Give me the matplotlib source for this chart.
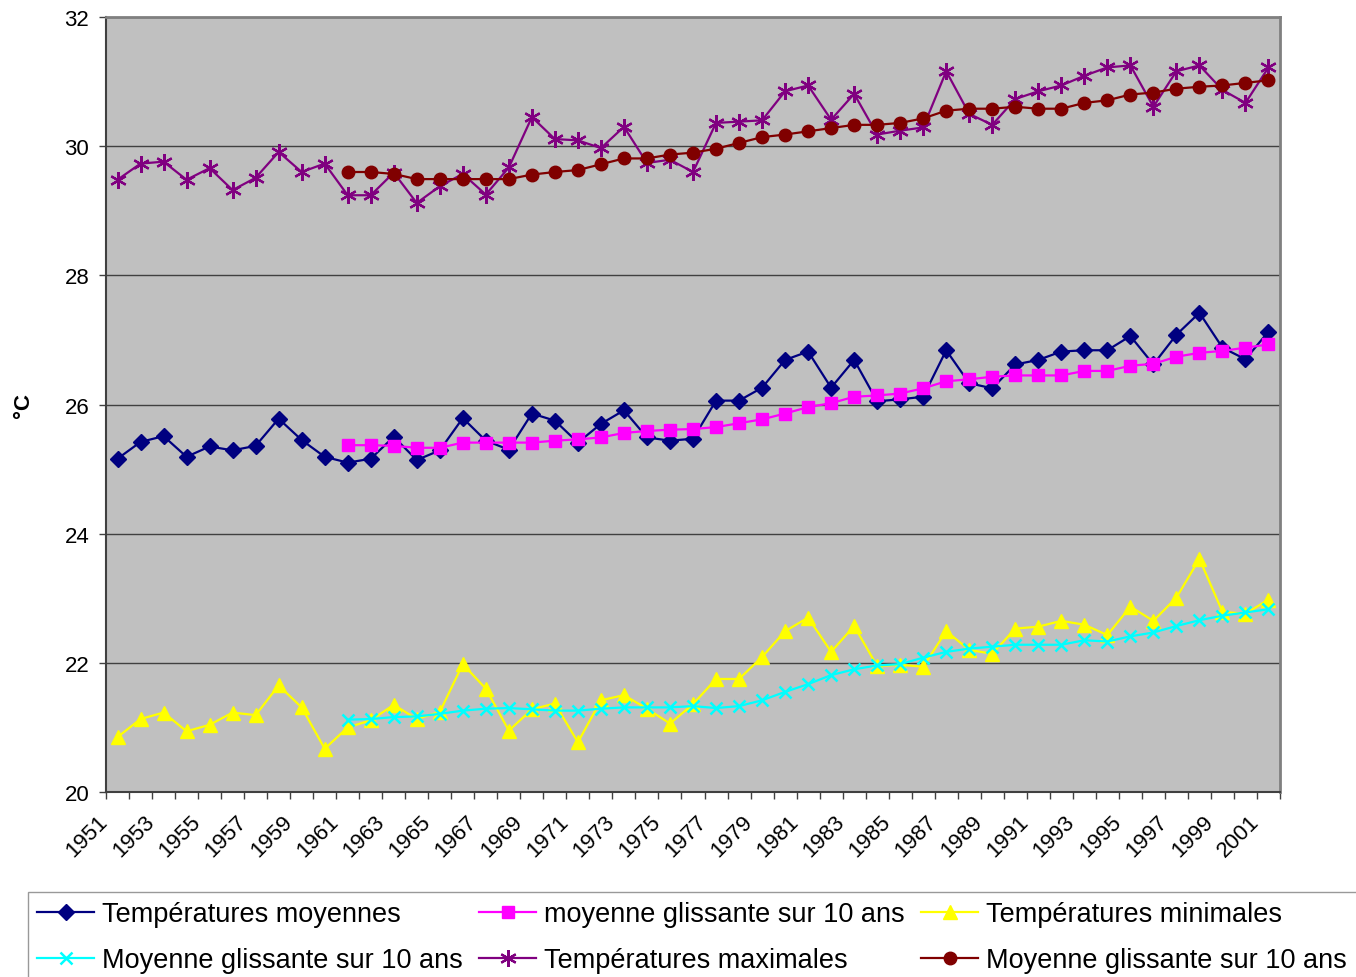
import matplotlib
matplotlib.use("Agg")
import matplotlib.pyplot as plt
import numpy as np
from matplotlib.transforms import ScaledTranslation

plt.rcParams["font.family"] = ["Liberation Sans", "DejaVu Sans"]

# ---- data -----------------------------------------------------------------
years = list(range(1951, 2002))
ma_years = list(range(1961, 2002))

t_moy = [25.16, 25.42, 25.51, 25.19, 25.35, 25.29, 25.36, 25.78, 25.45, 25.19,
         25.10, 25.16, 25.50, 25.14, 25.29, 25.79, 25.44, 25.30, 25.86, 25.75,
         25.41, 25.70, 25.91, 25.49, 25.44, 25.47, 26.06, 26.06, 26.26, 26.69,
         26.82, 26.26, 26.69, 26.05, 26.08, 26.12, 26.84, 26.33, 26.25, 26.62,
         26.69, 26.82, 26.84, 26.84, 27.06, 26.62, 27.08, 27.42, 26.88, 26.70,
         27.13]
ma_moy = [25.37, 25.37, 25.36, 25.33, 25.33, 25.41, 25.41, 25.41, 25.41, 25.44,
          25.46, 25.49, 25.56, 25.59, 25.61, 25.62, 25.65, 25.71, 25.77, 25.86,
          25.96, 26.02, 26.12, 26.14, 26.17, 26.25, 26.36, 26.39, 26.43, 26.45,
          26.45, 26.45, 26.52, 26.52, 26.60, 26.63, 26.74, 26.80, 26.83, 26.88,
          26.93]
t_min = [20.85, 21.13, 21.23, 20.94, 21.04, 21.23, 21.19, 21.65, 21.31, 20.67,
         21.00, 21.11, 21.35, 21.13, 21.24, 21.98, 21.60, 20.95, 21.28, 21.37,
         20.77, 21.42, 21.50, 21.29, 21.06, 21.36, 21.75, 21.75, 22.09, 22.49,
         22.70, 22.17, 22.57, 21.95, 21.97, 21.94, 22.49, 22.20, 22.14, 22.53,
         22.56, 22.65, 22.59, 22.43, 22.87, 22.65, 23.01, 23.61, 22.79, 22.76,
         22.98]
ma_min = [21.12, 21.13, 21.16, 21.17, 21.21, 21.26, 21.29, 21.30, 21.28, 21.26,
          21.26, 21.29, 21.31, 21.31, 21.31, 21.33, 21.30, 21.33, 21.42, 21.55,
          21.67, 21.81, 21.90, 21.96, 21.98, 22.08, 22.17, 22.22, 22.25, 22.28,
          22.28, 22.28, 22.35, 22.33, 22.41, 22.47, 22.57, 22.66, 22.73, 22.78,
          22.83]
t_max = [29.48, 29.73, 29.76, 29.48, 29.66, 29.32, 29.51, 29.91, 29.60, 29.73,
         29.24, 29.24, 29.59, 29.12, 29.38, 29.57, 29.25, 29.67, 30.45, 30.11,
         30.09, 29.97, 30.30, 29.74, 29.79, 29.60, 30.36, 30.38, 30.40, 30.85,
         30.94, 30.41, 30.81, 30.18, 30.24, 30.29, 31.16, 30.50, 30.33, 30.73,
         30.85, 30.94, 31.09, 31.22, 31.25, 30.61, 31.16, 31.25, 30.87, 30.67,
         31.22]
ma_max = [29.60, 29.60, 29.57, 29.49, 29.49, 29.49, 29.49, 29.49, 29.56, 29.60,
          29.63, 29.72, 29.81, 29.81, 29.87, 29.90, 29.96, 30.05, 30.14, 30.18,
          30.23, 30.28, 30.33, 30.33, 30.36, 30.43, 30.55, 30.58, 30.58, 30.61,
          30.58, 30.58, 30.67, 30.71, 30.80, 30.83, 30.89, 30.92, 30.94, 30.98,
          31.02]

labels = ["Températures moyennes", "moyenne glissante sur 10 ans",
          "Températures minimales", "Moyenne glissante sur 10 ans",
          "Températures maximales", "Moyenne glissante sur 10 ans"]

# ---- figure ---------------------------------------------------------------
fig = plt.figure(figsize=(13.56, 9.78), dpi=100)
ax = fig.add_axes([106 / 1356, 1 - 793 / 978, 1174 / 1356, 775 / 978])
ax.set_facecolor("#c0c0c0")

x = np.arange(len(years))
xm = np.array([years.index(y) for y in ma_years])

lw = 1.6
h_moy, = ax.plot(x, t_moy, color="#000080", lw=lw, marker="D", ms=8, zorder=3)
h_mam, = ax.plot(xm, ma_moy, color="#ff00ff", lw=lw, marker="s", ms=8.5, zorder=4)
h_min, = ax.plot(x, t_min, color="#ffff00", lw=lw, marker="^", ms=10, zorder=3)
h_mai, = ax.plot(xm, ma_min, color="#00ffff", lw=lw, marker="x", ms=9, mew=1.8, zorder=4)
h_max, = ax.plot(x, t_max, color="#800080", lw=lw, marker=(6, 2, 0), ms=12, mew=1.6, zorder=3)
h_mak, = ax.plot(xm, ma_max, color="#800000", lw=lw, marker="o", ms=9, zorder=4)

ax.set_xlim(-0.5, len(years) - 0.5)
ax.set_ylim(20, 32)
ax.set_yticks(np.arange(20, 33, 2))
ax.yaxis.grid(True, color="#404040", lw=1)
ax.set_axisbelow(True)

for s in ["top", "right"]:
    ax.spines[s].set_color("#808080")
    ax.spines[s].set_linewidth(2)
for s in ["left", "bottom"]:
    ax.spines[s].set_color("#404040")
    ax.spines[s].set_linewidth(1.5)

ax.tick_params(axis="y", direction="out", length=5, width=1, color="#404040",
               labelsize=16, pad=7)
ax.set_xticks(np.arange(-0.5, len(years), 1), minor=True)
ax.tick_params(axis="x", which="minor", direction="out", length=5, width=1,
               color="#404040")
ax.set_xticks(x[::2])
ax.set_xticklabels([str(y) for y in years[::2]])
ax.tick_params(axis="x", which="major", length=0, labelsize=16, pad=13.5)
off = ScaledTranslation(-20 / 100, 0, fig.dpi_scale_trans)
for lab in ax.get_xticklabels():
    lab.set_rotation(45)
    lab.set_ha("right")
    lab.set_va("top")
    lab.set_rotation_mode("anchor")
    lab.set_transform(lab.get_transform() + off)

ax.set_ylabel("°C", fontsize=16, fontweight="bold", va="center")
ax.yaxis.set_label_coords(-(106 - 23) / 1174, 0.5)

handles = [h_moy, h_mai, h_mam, h_max, h_min, h_mak]
leg_labels = [labels[0], labels[3], labels[1], labels[4], labels[2], labels[5]]
leg = fig.legend(handles, leg_labels, ncol=3, loc="upper left",
                 bbox_to_anchor=(28 / 1356, 1 - 893 / 978), borderaxespad=0,
                 fontsize=19.5, frameon=True, fancybox=False, handlelength=2.1,
                 handletextpad=0.3, columnspacing=0.6, labelspacing=0.72,
                 borderpad=0.35)
leg.get_frame().set_edgecolor("#808080")
leg.get_frame().set_linewidth(1)

fig.savefig("out.png", dpi=100, facecolor="white")
